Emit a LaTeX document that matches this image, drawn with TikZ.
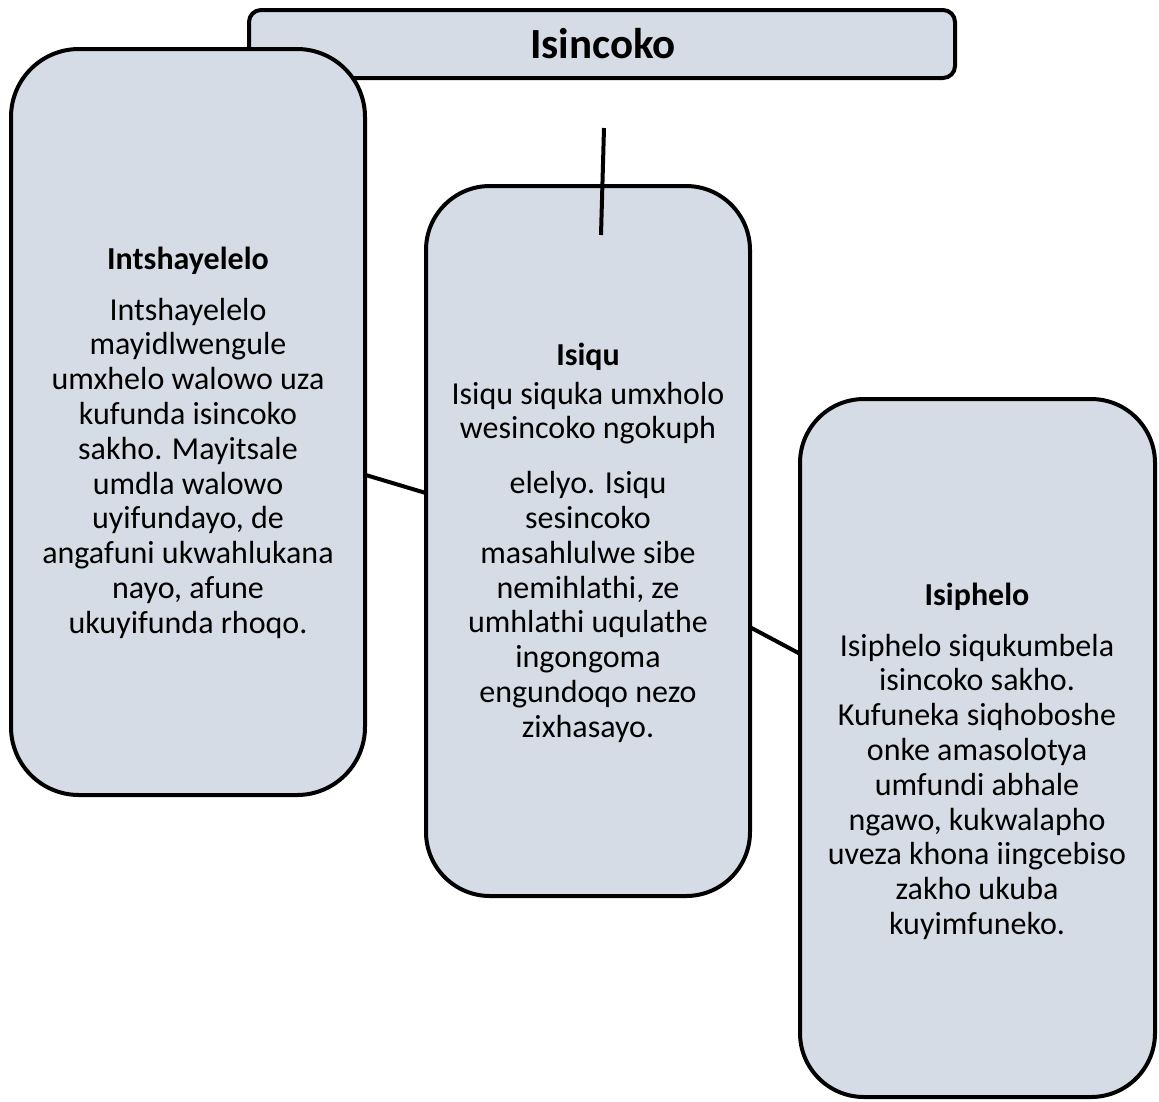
\documentclass[tikz,border=0pt]{standalone}
\usepackage{fontspec}
\setmainfont{Carlito}
\definecolor{boxfill}{HTML}{D6DCE5}
\begin{document}
\begin{tikzpicture}[x=1pt,y=-1pt,
  panel/.style={draw=black, line width=4pt, fill=boxfill, inner sep=0pt, outer sep=0pt},
  bodytext/.style={inner sep=0pt, outer sep=0pt, align=center, anchor=north, font=\fontsize{32}{34.8}\selectfont},
  link/.style={draw=black, line width=4pt}]
\useasboundingbox (0,0) rectangle (1159,1101);
% title
\node[panel, rounded corners=12pt, minimum width=706pt, minimum height=68pt] (title) at (602,44) {};
\node[anchor=base, inner sep=0pt, font=\fontsize{43}{50}\selectfont\bfseries] (titletext) at (603,58.7) {Isincoko};
% boxes
\node[panel, rounded corners=68pt, minimum width=354pt, minimum height=746pt] (intro) at (188,422) {};
\node[panel, rounded corners=64pt, minimum width=324pt, minimum height=710pt] (mid) at (588,541) {};
\node[panel, rounded corners=64pt, minimum width=355pt, minimum height=698pt] (end) at (977.5,748) {};
% texts
\node[bodytext] (introtext) at (188,239) {\rule{0pt}{30pt}\textbf{Intshayelelo}\\[16.2pt]
Intshayelelo\\ mayidlwengule\\ umxhelo walowo uza\\ kufunda isincoko\\ sakho. Mayitsale\\
umdla walowo\\ uyifundayo, de\\ angafuni ukwahlukana\\ nayo, afune\\ ukuyifunda rhoqo.};
\node[bodytext] (midtext) at (588,335.7) {\rule{0pt}{30pt}\textbf{Isiqu}\\[3.5pt]
Isiqu siquka umxholo\\ wesincoko ngokuph\hspace*{16pt}\\[20pt]
elelyo. Isiqu\\ sesincoko\\ masahlulwe sibe\\ nemihlathi, ze\\ umhlathi uqulathe\\
ingongoma\\ engundoqo nezo\\ zixhasayo.};
\node[bodytext] (endtext) at (977,575.3) {\rule{0pt}{30pt}\textbf{Isiphelo}\\[16pt]
Isiphelo siqukumbela\\ isincoko sakho.\\ Kufuneka siqhoboshe\\ onke amasolotya\\
umfundi abhale\\ ngawo, kukwalapho\\ uveza khona iingcebiso\\ zakho ukuba\\ kuyimfuneko.};
% connectors
\draw[link] (intro) -- (mid);
\draw[link] (mid) -- (end);
\coordinate (stemtop) at (604,128);
\coordinate (stembot) at (601,235);
\draw[link] (stemtop) -- (stembot);
\end{tikzpicture}
\end{document}
